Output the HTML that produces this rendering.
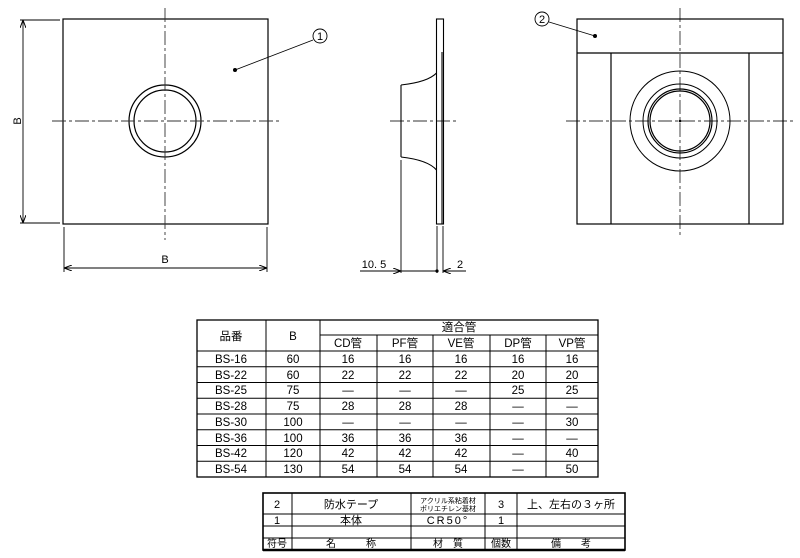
<!DOCTYPE html>
<html><head><meta charset="utf-8"><style>
html,body{margin:0;padding:0;background:#fff;}
svg{display:block;}
text{font-family:"Liberation Sans","Noto Sans CJK JP",sans-serif;fill:#000;}
</style></head><body>
<svg width="800" height="558" viewBox="0 0 800 558" xmlns="http://www.w3.org/2000/svg">
<defs>
<marker id="ar" markerWidth="8" markerHeight="6" refX="8" refY="3" orient="auto" markerUnits="userSpaceOnUse"><path d="M0,0 L8,3 L0,6" fill="none" stroke="#000" stroke-width="1"/></marker>
</defs>
<g stroke="#000" fill="none" stroke-width="1.2">
<rect x="63" y="19" width="205" height="205"/>
<circle cx="165" cy="121" r="36"/>
<circle cx="165" cy="121" r="31"/>
</g>
<g stroke="#333" stroke-width="0.9" stroke-dasharray="14,3,3,3" fill="none">
<line x1="165" y1="8" x2="165" y2="240"/>
<line x1="52" y1="121" x2="279" y2="121"/>
<line x1="390" y1="121" x2="456" y2="121"/>
<line x1="680" y1="8" x2="680" y2="235"/>
<line x1="566" y1="121" x2="793" y2="121"/>
</g>
<g stroke="#000" fill="none" stroke-width="0.9">
<line x1="20" y1="20" x2="60" y2="20"/>
<line x1="20" y1="223" x2="60" y2="223"/>
<line x1="23" y1="121" x2="23" y2="20" marker-end="url(#ar)"/>
<line x1="23" y1="121" x2="23" y2="223" marker-end="url(#ar)"/>
<line x1="64" y1="227" x2="64" y2="272"/>
<line x1="267" y1="227" x2="267" y2="272"/>
<line x1="165" y1="268" x2="64" y2="268" marker-end="url(#ar)"/>
<line x1="165" y1="268" x2="267" y2="268" marker-end="url(#ar)"/>
<line x1="313" y1="40" x2="235" y2="70"/>
<circle cx="320" cy="36" r="7"/>
</g>
<circle cx="235" cy="70" r="2" fill="#000"/>
<text x="320" y="40" font-size="11" text-anchor="middle">1</text>
<text x="17" y="121" font-size="11" text-anchor="middle" transform="rotate(-90 17 121)" dy="4">B</text>
<text x="165" y="263" font-size="11" text-anchor="middle">B</text>
<g stroke="#000" fill="none" stroke-width="1.1">
<rect x="436.5" y="19" width="7" height="205"/>
<line x1="442" y1="52" x2="442" y2="224"/>
<path d="M401,85 Q428,82 436.5,73"/>
<path d="M401,157 Q428,160 436.5,170"/>
<line x1="401" y1="85" x2="401" y2="157"/>
<line x1="401" y1="160" x2="401" y2="273" stroke-width="0.9"/>
<line x1="437" y1="226" x2="437" y2="273" stroke-width="0.9"/>
<line x1="443" y1="226" x2="443" y2="273" stroke-width="0.9"/>
<line x1="360" y1="271" x2="401" y2="271" stroke-width="0.9" marker-end="url(#ar)"/>
<line x1="401" y1="271" x2="437" y2="271" stroke-width="0.9"/>
<line x1="466" y1="271" x2="443" y2="271" stroke-width="0.9" marker-end="url(#ar)"/>
</g>
<circle cx="437" cy="271" r="1.6" fill="#000"/>
<text x="374" y="268" font-size="11" text-anchor="middle">10. 5</text>
<text x="460" y="268" font-size="11" text-anchor="middle">2</text>
<g stroke="#000" fill="none" stroke-width="1.2">
<rect x="577" y="19" width="206" height="205"/>
<line x1="577" y1="53" x2="783" y2="53"/>
<line x1="611" y1="53" x2="611" y2="224"/>
<line x1="749" y1="53" x2="749" y2="224"/>
<circle cx="680" cy="121" r="50" stroke-width="1"/>
<circle cx="680" cy="121" r="37" stroke-width="1"/>
<circle cx="680" cy="121" r="32"/>
<circle cx="680" cy="121" r="30"/>
<circle cx="542" cy="19" r="7" stroke-width="0.9"/>
<line x1="549" y1="22" x2="595" y2="36" stroke-width="0.9"/>
</g>
<circle cx="595" cy="36" r="2" fill="#000"/>
<circle cx="680" cy="121" r="1.3" fill="#000"/>
<text x="542" y="23" font-size="11" text-anchor="middle">2</text>
<g stroke="#000" fill="none" stroke-width="1">
<rect x="197" y="320" width="401" height="157" stroke-width="1.3"/>
<line x1="266" y1="320" x2="266" y2="477"/>
<line x1="320" y1="320" x2="320" y2="477"/>
<line x1="377" y1="335" x2="377" y2="477"/>
<line x1="433" y1="335" x2="433" y2="477"/>
<line x1="490" y1="335" x2="490" y2="477"/>
<line x1="546" y1="335" x2="546" y2="477"/>
<line x1="320" y1="335" x2="598" y2="335"/>
<line x1="197" y1="351" x2="598" y2="351"/>
<line x1="197" y1="366.75" x2="598" y2="366.75"/>
<line x1="197" y1="382.5" x2="598" y2="382.5"/>
<line x1="197" y1="398.25" x2="598" y2="398.25"/>
<line x1="197" y1="414" x2="598" y2="414"/>
<line x1="197" y1="429.75" x2="598" y2="429.75"/>
<line x1="197" y1="445.5" x2="598" y2="445.5"/>
<line x1="197" y1="461.25" x2="598" y2="461.25"/>
</g>
<g font-size="11.5" text-anchor="middle">
<text x="231" y="340">品番</text>
<text x="293" y="340">B</text>
<text x="459" y="331">適合管</text>
<text x="348" y="347">CD管</text><text x="405" y="347">PF管</text><text x="461" y="347">VE管</text><text x="518" y="347">DP管</text><text x="572" y="347">VP管</text>
</g>
<g font-size="11.5" text-anchor="middle">
<text y="363"><tspan x="231">BS-16</tspan><tspan x="293">60</tspan><tspan x="348">16</tspan><tspan x="405">16</tspan><tspan x="461">16</tspan><tspan x="518">16</tspan><tspan x="572">16</tspan></text>
<text y="379"><tspan x="231">BS-22</tspan><tspan x="293">60</tspan><tspan x="348">22</tspan><tspan x="405">22</tspan><tspan x="461">22</tspan><tspan x="518">20</tspan><tspan x="572">20</tspan></text>
<text y="394"><tspan x="231">BS-25</tspan><tspan x="293">75</tspan><tspan x="348">—</tspan><tspan x="405">—</tspan><tspan x="461">—</tspan><tspan x="518">25</tspan><tspan x="572">25</tspan></text>
<text y="410"><tspan x="231">BS-28</tspan><tspan x="293">75</tspan><tspan x="348">28</tspan><tspan x="405">28</tspan><tspan x="461">28</tspan><tspan x="518">—</tspan><tspan x="572">—</tspan></text>
<text y="426"><tspan x="231">BS-30</tspan><tspan x="293">100</tspan><tspan x="348">—</tspan><tspan x="405">—</tspan><tspan x="461">—</tspan><tspan x="518">—</tspan><tspan x="572">30</tspan></text>
<text y="442"><tspan x="231">BS-36</tspan><tspan x="293">100</tspan><tspan x="348">36</tspan><tspan x="405">36</tspan><tspan x="461">36</tspan><tspan x="518">—</tspan><tspan x="572">—</tspan></text>
<text y="457"><tspan x="231">BS-42</tspan><tspan x="293">120</tspan><tspan x="348">42</tspan><tspan x="405">42</tspan><tspan x="461">42</tspan><tspan x="518">—</tspan><tspan x="572">40</tspan></text>
<text y="473"><tspan x="231">BS-54</tspan><tspan x="293">130</tspan><tspan x="348">54</tspan><tspan x="405">54</tspan><tspan x="461">54</tspan><tspan x="518">—</tspan><tspan x="572">50</tspan></text>
</g>
<g stroke="#000" fill="none" stroke-width="1">
<rect x="263" y="493" width="362" height="57" stroke-width="1.6"/>
<line x1="263" y1="550" x2="625" y2="550" stroke-width="2.5"/>
<line x1="292" y1="493" x2="292" y2="550"/>
<line x1="411" y1="493" x2="411" y2="550"/>
<line x1="485" y1="493" x2="485" y2="550"/>
<line x1="517" y1="493" x2="517" y2="550"/>
<line x1="263" y1="514" x2="625" y2="514"/>
<line x1="263" y1="526" x2="625" y2="526"/>
<line x1="263" y1="538" x2="625" y2="538"/>
</g>
<g font-size="11" text-anchor="middle">
<text x="277" y="508">2</text><text x="351" y="508">防水テープ</text>
<text x="448" y="503" font-size="7">アクリル系粘着材</text><text x="448" y="511" font-size="7">ポリエチレン基材</text>
<text x="501" y="508">3</text><text x="571" y="508">上、左右の３ヶ所</text>
<text x="277" y="524">1</text><text x="351" y="524">本体</text><text x="448" y="524" letter-spacing="2">CR50°</text><text x="501" y="524">1</text>
</g>
<g font-size="10" text-anchor="middle">
<text x="277" y="547">符号</text><text x="351" y="547" xml:space="preserve">名　　　称</text><text x="448" y="547">材　質</text><text x="501" y="547">個数</text><text x="571" y="547">備　　考</text>
</g>
</svg>
</body></html>
